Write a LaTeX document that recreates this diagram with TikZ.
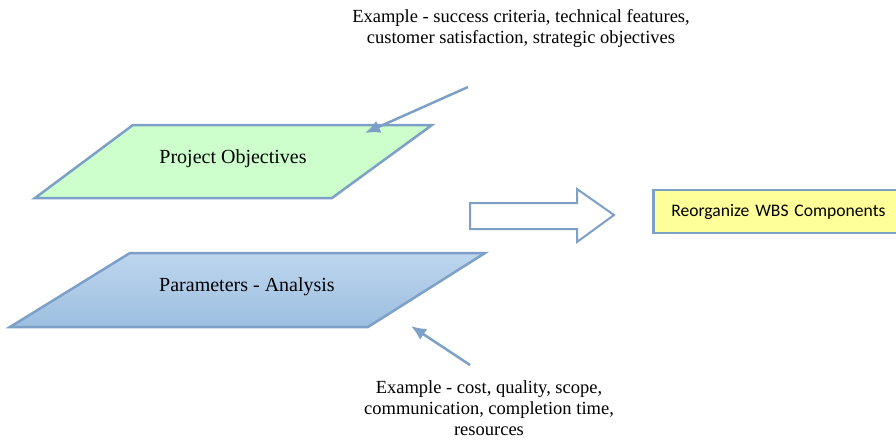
\documentclass[tikz,border=0pt]{standalone}
\usepackage{fontspec}
\setmainfont{Liberation Serif}
\newfontfamily\calibri{Carlito}
\usetikzlibrary{arrows.meta}
\definecolor{edgeblue}{RGB}{125,160,200}
\definecolor{objgreen}{RGB}{204,255,204}
\definecolor{wbsyellow}{RGB}{255,255,153}
\definecolor{paramtop}{RGB}{190,214,238}
\definecolor{parambot}{RGB}{156,190,224}

\begin{document}
\begin{tikzpicture}[x=1pt, y=-1pt,
    plane/.style={draw=edgeblue, line width=2.5pt, line join=miter},
    note/.style={align=center, font=\fontsize{18.5}{21}\selectfont},
    pointer/.style={draw=edgeblue, line width=2.5pt, -{Latex[length=15pt,width=13pt]}}]

    \useasboundingbox (0,0) rectangle (896,439);

    % Objetivos del proyecto
    \filldraw[plane, fill=objgreen] (133,125) -- (432,125) -- (332,198) -- (35,198) -- cycle;
    \node[font=\fontsize{20}{24}\selectfont] (obj) at (233,159) {Project Objectives};

    % Parametros
    \draw[plane, top color=paramtop, bottom color=parambot] (130,253) -- (485,253) -- (368,327) -- (10,327) -- cycle;
    \node[font=\fontsize{20}{24}\selectfont] (par) at (247,287) {Parameters - Analysis};

    % Flecha grande
    \filldraw[draw=edgeblue, fill=white, line width=2pt, line join=miter]
        (470,203) -- (577,203) -- (577,189) -- (614,215) -- (577,242) -- (577,229) -- (470,229) -- cycle;

    % Resultado (sigue fuera del borde derecho)
    \node[draw=edgeblue, fill=wbsyellow, line width=2.5pt, anchor=west,
          minimum height=43pt, text width=225pt, inner xsep=18pt, align=left,
          font=\calibri\fontsize{17.6}{20}\selectfont] (wbs) at (652,211.5) {Reorganize WBS Components};

    % Notas
    \node[note] (objnote) at (521,28) {Example - success criteria, technical features,\\customer satisfaction, strategic objectives};
    \node[note] (parnote) at (489,408) {Example - cost, quality, scope,\\communication, completion time,\\resources};

    % Flechas de las notas
    \coordinate (objtail) at (468,87);
    \coordinate (objtip) at (365,133);
    \draw[pointer] (objtail) -- (objtip);
    \coordinate (partail) at (470,365);
    \coordinate (partip) at (411,326);
    \draw[pointer] (partail) -- (partip);
\end{tikzpicture}
\end{document}
